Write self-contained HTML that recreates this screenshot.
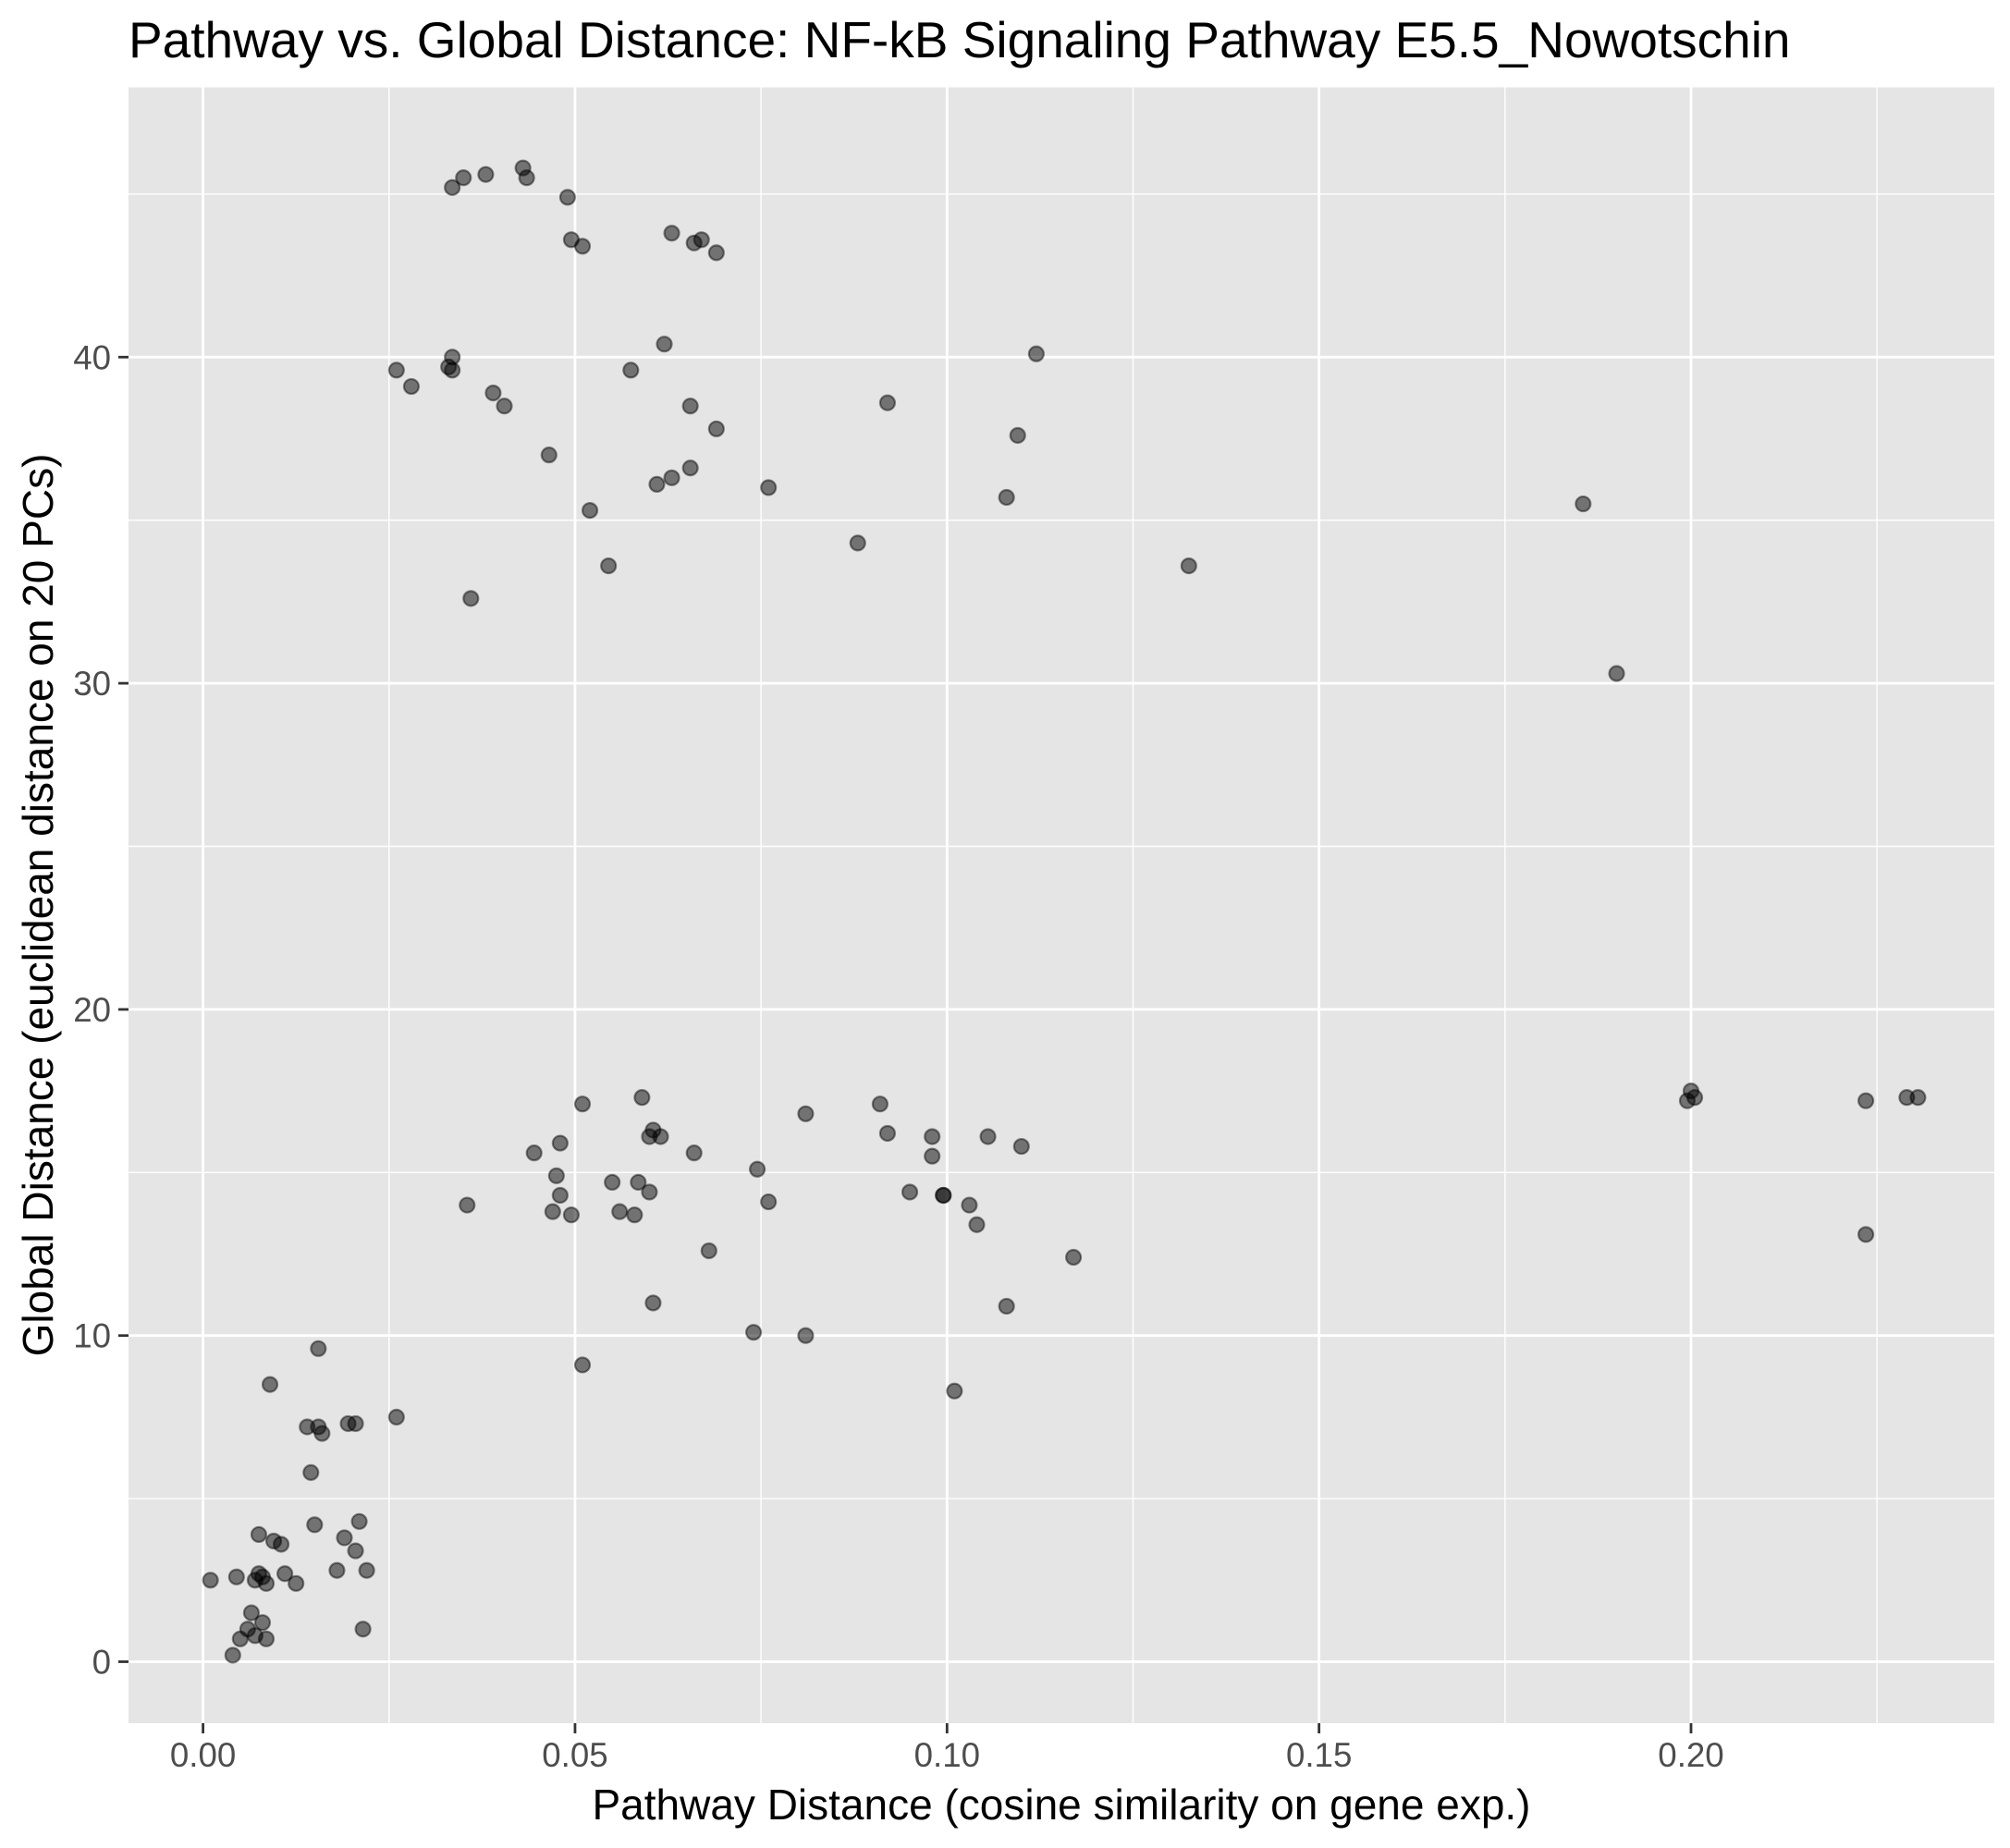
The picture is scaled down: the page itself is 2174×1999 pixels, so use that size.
<!DOCTYPE html>
<html><head><meta charset="utf-8"><style>
html,body{margin:0;padding:0;background:#fff;}
svg{display:block;font-family:"Liberation Sans",Arial,sans-serif;}
</style></head><body>
<svg id="chart" width="2174" height="1999" viewBox="0 0 2174 1999" xmlns="http://www.w3.org/2000/svg">
<text x="139" y="62" font-size="55" fill="#000">Pathway vs. Global Distance: NF-kB Signaling Pathway E5.5_Nowotschin</text>
<rect x="139" y="94.5" width="2018" height="1769.5" fill="#E5E5E5"/>
<g id="grid"></g>
<g id="points"></g>
<g id="axes"></g>
<text x="1148" y="1968" font-size="46" text-anchor="middle" fill="#000">Pathway Distance (cosine similarity on gene exp.)</text>
<text transform="translate(57,979) rotate(-90)" font-size="46" text-anchor="middle" fill="#000">Global Distance (euclidean distance on 20 PCs)</text>
</svg>
<script>
const xVals=[0.0335,0.035,0.038,0.043,0.0435,0.049,0.0495,0.051,0.063,0.066,0.067,0.069,
0.026,0.028,0.033,0.0335,0.0335,0.039,0.0405,0.0465,0.052,0.0545,0.036,0.0575,0.062,0.061,0.063,0.0655,0.0655,0.069,0.076,0.088,0.092,0.108,0.1095,0.112,0.1325,0.1855,0.19,
0.0355,0.0445,0.0475,0.048,0.048,0.047,0.0495,0.051,0.051,0.055,0.056,0.058,0.0585,0.059,0.06,0.06,0.0605,0.0615,0.0605,0.066,0.068,0.0745,0.074,0.076,0.081,0.081,0.091,0.092,0.095,0.098,0.098,0.0995,0.0995,0.101,0.103,0.104,0.1055,0.108,0.11,0.117,
0.1995,0.2,0.2005,0.2235,0.2235,0.229,0.2305,
0.0155,0.009,0.014,0.0155,0.016,0.0195,0.0205,0.026,0.0145,0.015,0.0075,0.0095,0.0105,0.019,0.021,0.0205,0.001,0.0045,0.007,0.0075,0.008,0.0085,0.011,0.0125,0.018,0.022,0.0065,0.006,0.008,0.007,0.005,0.0085,0.004,0.0215];
const yVals=[45.2,45.5,45.6,45.8,45.5,44.9,43.6,43.4,43.8,43.5,43.6,43.2,
39.6,39.1,39.7,40.0,39.6,38.9,38.5,37.0,35.3,33.6,32.6,39.6,40.4,36.1,36.3,36.6,38.5,37.8,36.0,34.3,38.6,35.7,37.6,40.1,33.6,35.5,30.3,
14.0,15.6,14.9,15.9,14.3,13.8,13.7,17.1,9.1,14.7,13.8,13.7,14.7,17.3,14.4,16.1,16.3,16.1,11.0,15.6,12.6,15.1,10.1,14.1,16.8,10.0,17.1,16.2,14.4,16.1,15.5,14.3,14.3,8.3,14.0,13.4,16.1,10.9,15.8,12.4,
17.2,17.5,17.3,17.2,13.1,17.3,17.3,
9.6,8.5,7.2,7.2,7.0,7.3,7.3,7.5,5.8,4.2,3.9,3.7,3.6,3.8,4.3,3.4,2.5,2.6,2.5,2.7,2.6,2.4,2.7,2.4,2.8,2.8,1.5,1.0,1.2,0.8,0.7,0.7,0.2,1.0];
const xTicks=[0,0.05,0.1,0.15,0.2];
const xTickLabels=["0.00","0.05","0.10","0.15","0.20"];
const xMinor=[0.025,0.075,0.125,0.175,0.225];
const yTicks=[0,10,20,30,40];
const yTickLabels=["0","10","20","30","40"];
const yMinor=[5,15,25,35,45];

const PL=139,PR=2157,PT=94.5,PB=1864;
function sx(v){return 219.6+v*8047;}
function sy(v){return 1797.5-v*35.28;}
const NS="http://www.w3.org/2000/svg";
function mk(tag,attrs,parent){const e=document.createElementNS(NS,tag);for(const k in attrs)e.setAttribute(k,attrs[k]);parent.appendChild(e);return e;}
const grid=document.getElementById('grid'),pts=document.getElementById('points'),axes=document.getElementById('axes');
xMinor.forEach(v=>{const l=mk('line',{x1:sx(v),x2:sx(v),y1:PT,y2:PB,stroke:'#fff','stroke-width':1.4},grid);

});
yMinor.forEach(v=>{const l=mk('line',{x1:PL,x2:PR,y1:sy(v),y2:sy(v),stroke:'#fff','stroke-width':1.4},grid);

});
xTicks.forEach((v,i)=>{const l=mk('line',{x1:sx(v),x2:sx(v),y1:PT,y2:PB,stroke:'#fff','stroke-width':2.8},grid);


const t=mk('line',{x1:sx(v),x2:sx(v),y1:PB,y2:PB+11,stroke:'#333','stroke-width':2.8},axes);


const tx=mk('text',{x:sx(v),y:PB+47,'font-size':36.7,'text-anchor':'middle',fill:'#4D4D4D'},axes);
tx.textContent=xTickLabels[i];

});
yTicks.forEach((v,i)=>{const l=mk('line',{x1:PL,x2:PR,y1:sy(v),y2:sy(v),stroke:'#fff','stroke-width':2.8},grid);


const t=mk('line',{x1:PL-11,x2:PL,y1:sy(v),y2:sy(v),stroke:'#333','stroke-width':2.8},axes);


const tx=mk('text',{x:PL-19,y:sy(v)+13,'font-size':36.7,'text-anchor':'end',fill:'#4D4D4D'},axes);
tx.textContent=yTickLabels[i];

});
xVals.forEach((v,i)=>{const c=mk('circle',{cx:sx(v),cy:sy(yVals[i]),r:8,fill:'rgba(0,0,0,0.5)',stroke:'rgba(0,0,0,0.45)','stroke-width':2.2},pts);

});
</script>
</body></html>
